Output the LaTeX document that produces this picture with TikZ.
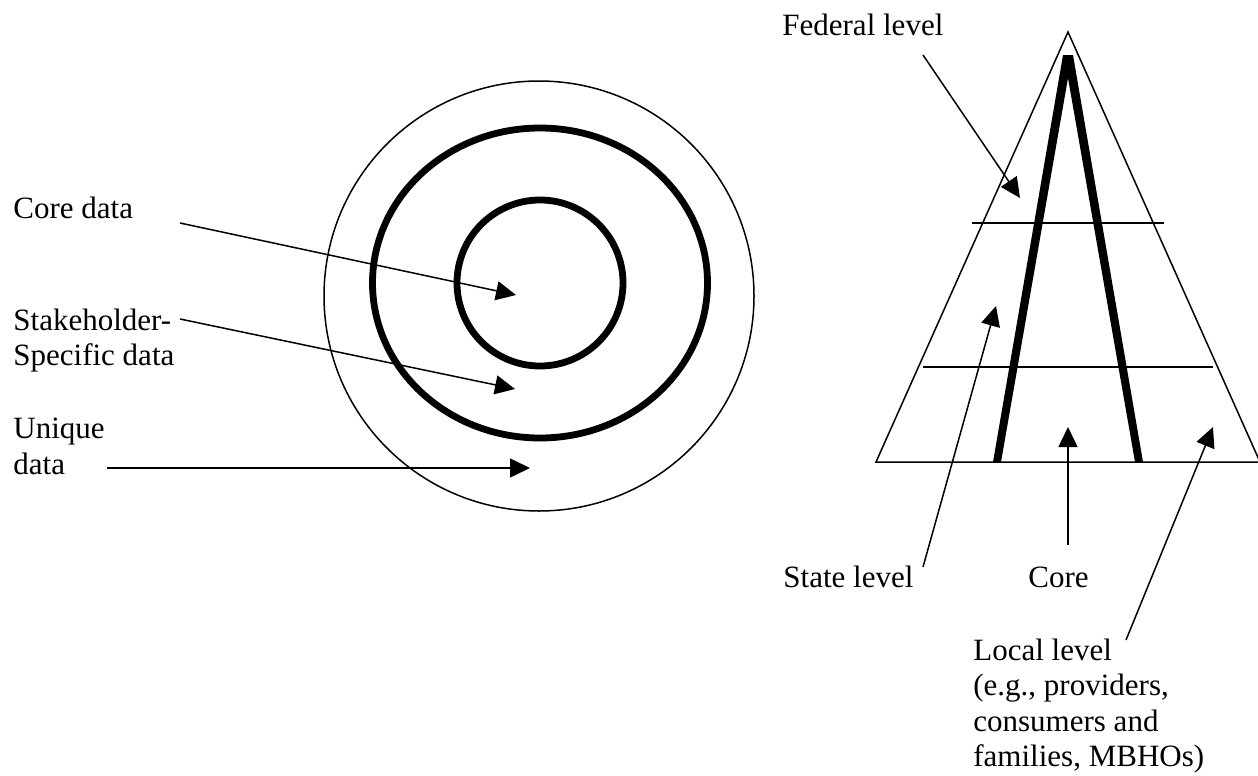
\documentclass[tikz,border=0pt]{standalone}
\usepackage{fontspec}
\setmainfont{Liberation Serif}
\usetikzlibrary{arrows.meta}
\begin{document}
\begin{tikzpicture}[x=0.5pt,y=-0.5pt,
  lbl/.style={anchor=base west, inner sep=0pt, font=\fontsize{15.5pt}{17.75pt}\selectfont},
  thinline/.style={line width=0.75pt},
  ptr/.style={line width=0.75pt, -{Triangle[length=10pt,width=9.5pt]}},
  ringline/.style={line width=3.4pt},
]
\useasboundingbox (0,0) rectangle (1258,776);

% ---- rings ----
\draw[thinline] (539,296) circle [radius=215];
\draw[ringline] (540,283) ellipse [x radius=167.5, y radius=155];
\draw[ringline] (540,283) circle [radius=83];

% ---- left labels ----
\node[lbl] (core1) at (13,218) {Core data};
\node[lbl] (stake1) at (13,330) {Stakeholder-};
\node[lbl] (stake2) at (13,365) {Specific data};
\node[lbl] (uniq1) at (13,438) {Unique};
\node[lbl] (uniq2) at (13,474) {data};

\coordinate (coreS) at (180,223);
\coordinate (coreT) at (516,295);
\coordinate (stakeS) at (180,319);
\coordinate (stakeT) at (515,389);
\coordinate (uniqS) at (107,468);
\coordinate (uniqT) at (530,468);
\draw[ptr] (coreS) -- (coreT);
\draw[ptr] (stakeS) -- (stakeT);
\draw[ptr] (uniqS) -- (uniqT);

% ---- pyramid ----
\draw[thinline, line join=miter] (1068,32) -- (876,462) -- (1260,462) -- cycle;
\draw[thinline] (972,223) -- (1164,223);
\draw[thinline] (923,367) -- (1213,367);
\fill (993,462) -- (1063,55) -- (1073,55) -- (1143,462) -- (1135,462)
      -- (1068,78) -- (1001,462) -- cycle;

% ---- right labels ----
\node[lbl] (fed) at (782,35) {Federal level};
\node[lbl] (state) at (783,587) {State level};
\node[lbl] (core) at (1028,587) {Core};
\node[lbl] (loc1) at (973,660) {Local level};
\node[lbl] (loc2) at (973,695.5) {(e.g., providers,};
\node[lbl] (loc3) at (973,731) {consumers and};
\node[lbl] (loc4) at (973,766.5) {families, MBHOs)};

\coordinate (fedS) at (923,55);
\coordinate (fedT) at (1020,198);
\coordinate (stateS) at (923,567);
\coordinate (stateT) at (996,306);
\coordinate (corepS) at (1068,545);
\coordinate (corepT) at (1068,427);
\coordinate (locS) at (1126,640);
\coordinate (locT) at (1213,427);
\draw[ptr] (fedS) -- (fedT);
\draw[ptr] (stateS) -- (stateT);
\draw[ptr] (corepS) -- (corepT);
\draw[ptr] (locS) -- (locT);
\end{tikzpicture}
\end{document}
